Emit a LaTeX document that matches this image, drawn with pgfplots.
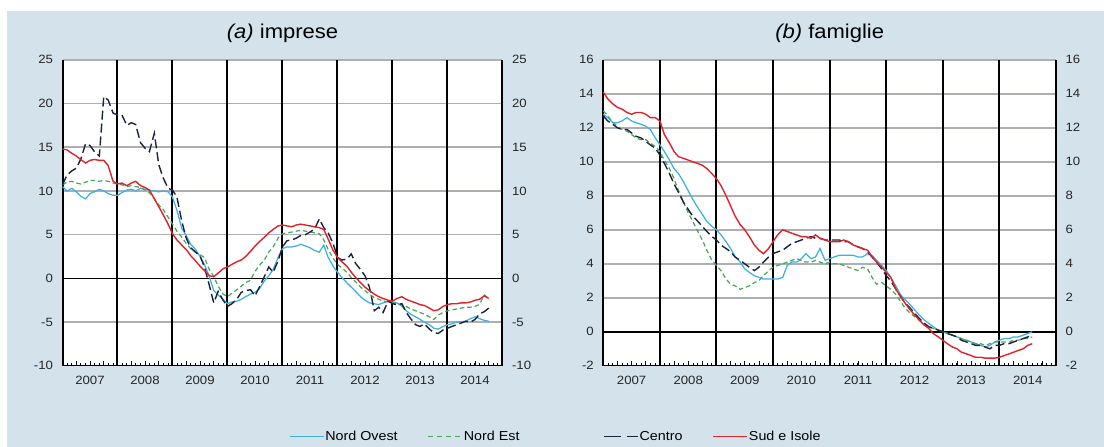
\documentclass[border=0pt]{standalone}
\usepackage{fontspec}
\setmainfont{Liberation Sans}[FakeStretch=1.1]
\usepackage{pgfplots}
\usepackage{pgfplotstable}
\pgfplotsset{compat=1.18}

\definecolor{bgblue}{RGB}{212,226,236}
\definecolor{nordovest}{RGB}{64,176,222}
\definecolor{nordest}{RGB}{76,168,88}
\definecolor{centro}{RGB}{26,36,62}
\definecolor{sud}{RGB}{226,34,40}
\definecolor{rulegray}{RGB}{172,175,180}

% twelve-month growth rates, monthly: t, Nord Ovest, Nord Est, Centro, Sud e Isole
\pgfplotstableread{
t no ne ce si
2007.00 10.5 10.7 10.7 14.8
2007.08 10.0 11.0 11.8 14.7
2007.17 10.3 11.1 12.3 14.3
2007.25 9.9 10.9 12.6 14.0
2007.33 9.4 10.8 13.6 13.6
2007.42 9.1 11.0 15.4 13.2
2007.50 9.7 11.2 15.2 13.5
2007.58 9.9 11.2 14.5 13.6
2007.67 10.2 11.1 14.0 13.5
2007.75 10.0 11.2 20.8 13.5
2007.83 9.7 11.1 20.4 12.9
2007.92 9.5 10.9 18.9 11.1
2008.00 9.5 10.8 18.7 10.8
2008.08 9.8 10.7 18.7 10.9
2008.17 10.1 10.5 17.5 10.6
2008.25 10.2 10.6 17.8 10.9
2008.33 10.0 10.5 17.6 11.1
2008.42 10.3 10.4 15.5 10.6
2008.50 10.2 10.1 14.9 10.4
2008.58 10.1 9.8 14.5 10.1
2008.67 10.0 9.1 16.6 9.1
2008.75 9.9 8.4 13.0 8.2
2008.83 10.0 7.9 11.5 7.3
2008.92 9.9 7.0 10.3 6.2
2009.00 9.3 6.2 10.1 5.1
2009.08 7.8 5.4 9.3 4.4
2009.17 5.7 4.7 6.5 3.8
2009.25 4.9 4.0 4.6 3.3
2009.33 3.9 3.4 3.5 2.6
2009.42 3.3 3.0 3.0 2.0
2009.50 2.5 2.7 2.6 1.4
2009.58 1.6 2.4 1.3 0.9
2009.67 0.2 1.0 -0.8 0.3
2009.75 -1.4 0.2 -2.8 0.2
2009.83 -1.9 -0.9 -1.5 0.6
2009.92 -2.4 -1.8 -2.5 1.1
2010.00 -2.9 -2.1 -3.2 1.3
2010.08 -2.7 -1.7 -2.9 1.6
2010.17 -2.6 -1.3 -2.4 1.9
2010.25 -2.4 -0.9 -1.6 2.1
2010.33 -2.1 -0.5 -1.4 2.5
2010.42 -1.8 -0.2 -1.3 3.1
2010.50 -1.6 0.8 -2.0 3.7
2010.58 -1.2 1.5 -1.0 4.2
2010.67 -0.3 2.1 0.2 4.7
2010.75 0.3 3.0 1.3 5.2
2010.83 1.0 3.6 0.7 5.6
2010.92 2.4 4.6 2.0 6.0
2011.00 3.4 5.1 3.6 6.1
2011.08 3.6 5.2 4.3 6.0
2011.17 3.6 5.3 4.4 5.9
2011.25 3.7 5.4 4.6 6.1
2011.33 3.9 5.5 4.9 6.2
2011.42 3.7 5.4 5.0 6.1
2011.50 3.5 5.3 5.3 6.0
2011.58 3.2 5.2 5.6 5.9
2011.67 3.0 5.1 6.8 5.8
2011.75 3.8 4.4 5.8 5.6
2011.83 2.4 3.3 5.2 4.5
2011.92 1.4 2.3 4.0 3.2
2012.00 0.7 1.6 2.4 2.4
2012.08 0.1 1.2 2.1 1.9
2012.17 -0.5 0.7 2.2 1.4
2012.25 -1.0 0.1 2.8 0.7
2012.33 -1.5 -0.4 1.7 0.1
2012.42 -2.1 -1.0 1.0 -0.5
2012.50 -2.5 -1.4 0.3 -1.0
2012.58 -2.8 -1.8 -1.0 -1.4
2012.67 -2.9 -2.2 -3.7 -1.8
2012.75 -3.0 -2.4 -3.3 -2.1
2012.83 -2.8 -2.6 -3.9 -2.3
2012.92 -2.6 -2.7 -2.6 -2.5
2013.00 -2.7 -2.8 -2.9 -2.6
2013.08 -2.8 -2.9 -3.0 -2.3
2013.17 -3.2 -3.0 -2.9 -2.1
2013.25 -3.7 -3.2 -3.9 -2.4
2013.33 -4.1 -3.5 -4.6 -2.6
2013.42 -4.4 -3.7 -5.3 -2.8
2013.50 -4.7 -3.9 -5.5 -3.0
2013.58 -5.0 -4.1 -5.2 -3.1
2013.67 -5.3 -4.4 -5.8 -3.4
2013.75 -5.7 -4.7 -6.2 -3.7
2013.83 -5.8 -4.2 -6.3 -3.6
2013.92 -5.5 -3.9 -5.9 -3.2
2014.00 -5.3 -3.7 -5.7 -3.0
2014.08 -5.2 -3.6 -5.5 -2.9
2014.17 -5.0 -3.5 -5.3 -2.9
2014.25 -5.0 -3.4 -5.1 -2.8
2014.33 -4.9 -3.3 -4.9 -2.8
2014.42 -4.6 -3.3 -5.0 -2.7
2014.50 -4.4 -3.2 -4.7 -2.5
2014.58 -4.6 -3.0 -4.1 -2.4
2014.67 -4.8 -1.9 -3.8 -2.0
2014.75 -4.9 -2.3 -3.4 -2.3
}\imprese

\pgfplotstableread{
t no ne ce si
2007.00 12.8 13.0 12.7 14.1
2007.08 12.6 12.7 12.4 13.7
2007.17 12.3 12.3 12.2 13.4
2007.25 12.3 12.1 12.0 13.2
2007.33 12.4 11.9 11.9 13.1
2007.42 12.6 11.8 11.9 12.9
2007.50 12.4 11.6 11.7 12.8
2007.58 12.3 11.4 11.5 12.9
2007.67 12.2 11.3 11.4 12.9
2007.75 12.1 11.3 11.2 12.8
2007.83 11.9 11.1 11.0 12.6
2007.92 11.4 10.9 10.8 12.6
2008.00 11.0 10.6 10.4 12.4
2008.08 10.6 10.1 9.9 11.6
2008.17 10.1 9.6 9.3 11.1
2008.25 9.6 9.0 8.7 10.6
2008.33 9.3 8.3 8.2 10.3
2008.42 8.8 7.6 7.6 10.2
2008.50 8.3 7.0 7.2 10.1
2008.58 7.8 6.5 6.8 10.0
2008.67 7.3 5.9 6.5 9.9
2008.75 6.9 5.4 6.2 9.8
2008.83 6.5 4.8 5.9 9.6
2008.92 6.2 4.2 5.6 9.3
2009.00 6.0 3.9 5.4 9.0
2009.08 5.7 3.6 5.1 8.6
2009.17 5.3 3.1 4.9 8.0
2009.25 4.9 2.8 4.7 7.4
2009.33 4.4 2.7 4.4 6.8
2009.42 4.1 2.5 4.2 6.3
2009.50 3.7 2.6 4.0 6.0
2009.58 3.5 2.7 3.8 5.6
2009.67 3.3 2.9 3.6 5.1
2009.75 3.2 3.0 3.8 4.8
2009.83 3.1 3.3 4.1 4.6
2009.92 3.1 3.6 4.4 4.9
2010.00 3.1 3.8 4.6 5.3
2010.08 3.1 3.9 4.7 5.7
2010.17 3.2 4.0 4.8 6.0
2010.25 3.9 4.1 5.0 5.9
2010.33 4.1 4.2 5.2 5.8
2010.42 4.1 4.3 5.3 5.7
2010.50 4.3 4.2 5.4 5.6
2010.58 4.6 4.1 5.5 5.6
2010.67 4.3 4.1 5.6 5.5
2010.75 4.4 4.2 5.5 5.7
2010.83 4.9 4.1 5.5 5.5
2010.92 4.2 4.0 5.4 5.4
2011.00 4.3 4.1 5.4 5.3
2011.08 4.4 4.0 5.4 5.3
2011.17 4.5 4.0 5.4 5.3
2011.25 4.5 3.9 5.3 5.4
2011.33 4.5 3.8 5.3 5.3
2011.42 4.5 3.7 5.1 5.1
2011.50 4.4 3.6 5.0 5.0
2011.58 4.4 3.8 4.9 4.9
2011.67 4.6 3.7 4.7 4.8
2011.75 4.5 3.2 4.4 4.4
2011.83 4.2 2.8 4.1 4.1
2011.92 3.9 2.9 3.7 3.8
2012.00 3.6 2.7 3.3 3.5
2012.08 3.2 2.5 3.0 3.2
2012.17 2.7 2.2 2.5 2.5
2012.25 2.2 1.8 2.1 2.1
2012.33 1.9 1.4 1.7 1.7
2012.42 1.6 1.1 1.4 1.3
2012.50 1.3 0.9 1.1 1.0
2012.58 1.0 0.7 0.8 0.7
2012.67 0.7 0.5 0.5 0.4
2012.75 0.5 0.3 0.3 0.2
2012.83 0.3 0.2 0.2 -0.1
2012.92 0.1 0.1 0.1 -0.3
2013.00 0.0 0.0 0.0 -0.5
2013.08 -0.1 -0.1 -0.1 -0.7
2013.17 -0.2 -0.2 -0.2 -0.9
2013.25 -0.3 -0.3 -0.3 -1.0
2013.33 -0.4 -0.4 -0.5 -1.2
2013.42 -0.5 -0.5 -0.6 -1.3
2013.50 -0.6 -0.6 -0.7 -1.4
2013.58 -0.7 -0.7 -0.8 -1.5
2013.67 -0.8 -0.7 -0.8 -1.5
2013.75 -0.9 -0.8 -0.9 -1.55
2013.83 -0.8 -0.7 -1.0 -1.55
2013.92 -0.6 -0.6 -0.8 -1.55
2014.00 -0.5 -0.6 -0.8 -1.5
2014.08 -0.4 -0.6 -0.7 -1.4
2014.17 -0.4 -0.6 -0.7 -1.3
2014.25 -0.3 -0.5 -0.6 -1.2
2014.33 -0.3 -0.5 -0.5 -1.1
2014.42 -0.2 -0.4 -0.4 -1.0
2014.50 -0.1 -0.4 -0.3 -0.8
2014.58 0.0 -0.3 -0.2 -0.7
}\famiglie

% rules inside the plot area
\tikzset{
  yearline/.style={draw=black, line width=2pt},
  zeroline/.style={draw=black, line width=1.5pt},
}
% a horizontal gridline as a thin filled band at relative height #1
\newcommand{\hband}[1]{\fill[rulegray] ([yshift=-0.75pt]rel axis cs:0,#1) rectangle ([yshift=0.75pt]rel axis cs:1,#1);}

\pgfplotsset{
  panel/.style={
    scale only axis,
    anchor=south west,
    clip=false,
    xmin=2007, xmax=2015,
    axis background/.style={fill=white},
    axis line style={draw=none},
    /pgf/number format/assume math mode=true,
    tick label style={font=\fontsize{12}{13}\selectfont, text=black!85},
    % quarter ticks carry the year labels (at mid-year)
    xtick={2007.25,2007.5,2007.75,2008.25,2008.5,2008.75,2009.25,2009.5,2009.75,
           2010.25,2010.5,2010.75,2011.25,2011.5,2011.75,2012.25,2012.5,2012.75,
           2013.25,2013.5,2013.75,2014.25,2014.5,2014.75},
    xticklabels={,2007,,,2008,,,2009,,,2010,,,2011,,,2012,,,2013,,,2014,},
    minor xtick={2007,2007.0833333,...,2015},
    tick align=inside,
    xtick pos=bottom,
    major tick length=5pt,
    minor tick length=2.5pt,
    x tick style={black, line width=0.7pt},
    xticklabel style={yshift=-7pt},
    ytick style={draw=none},
    yticklabel style={xshift=-6pt},
    title style={font=\fontsize{20}{22}\selectfont, at={(0.5,1)}, anchor=center, yshift=20pt},
    after end axis/.code={\draw[black, line width=0.9pt] (rel axis cs:0,0) -- (rel axis cs:1,0);},
    legend cell align=left,
    legend style={draw=none, fill=none, font=\fontsize{13}{14}\selectfont,
      nodes={inner sep=1pt},
      /tikz/every even column/.append style={column sep=29pt}},
    legend columns=2,
    legend image code/.code={\draw[#1] (0pt,0pt) -- (34pt,0pt);},
  },
  rightlabels/.style={
    scale only axis,
    anchor=south west,
    xmin=2007, xmax=2015,
    hide x axis,
    axis y line*=right,
    y axis line style={draw=none},
    ytick style={draw=none},
    /pgf/number format/assume math mode=true,
    tick label style={font=\fontsize{12}{13}\selectfont, text=black!85},
    yticklabel style={xshift=6pt},
  },
  sNO/.style={no marks, color=nordovest, line width=1.25pt},
  sNE/.style={no marks, color=nordest, line width=1.25pt, dash pattern=on 4.5pt off 3pt,
    legend image post style={dash pattern=on 5pt off 4pt}},
  sCE/.style={no marks, color=centro, line width=1.4pt, dash pattern=on 9pt off 4pt,
    legend image post style={dash pattern=on 17pt off 6pt}},
  sSI/.style={no marks, color=sud, line width=1.4pt},
}

\begin{document}
\begin{tikzpicture}
\useasboundingbox (0,0) rectangle (1104pt,447pt);
\fill[white] (0,0) rectangle (1104pt,447pt);
\fill[bgblue] (7pt,0) rectangle (1104pt,436pt);

% (a) imprese: gridlines every 5 points (7 intervals over the 35-point range)
\begin{axis}[panel,
  at={(62.5pt,81.2pt)}, width=440pt, height=306pt,
  ymin=-10, ymax=25, ytick={-10,-5,...,25},
  title={\textit{(a)} imprese},
  legend style={at={(0.778,-0.231)}, anchor=center}]
\hband{0.142857}
\hband{0.428571}
\hband{0.571429}
\hband{0.714286}
\hband{0.857143}
\hband{1}
\pgfplotsinvokeforeach{2007,2008,2009,2010,2011,2012,2013,2014,2015}{\draw[yearline] (axis cs:#1,-10) -- (axis cs:#1,25);}
\draw[zeroline] (axis cs:2007,0) -- (axis cs:2015,0);
\addplot[sNO] table[x=t, y=no] {\imprese};
\addplot[sNE] table[x=t, y=ne] {\imprese};
\addplot[sCE] table[x=t, y=ce] {\imprese};
\addplot[sSI] table[x=t, y=si] {\imprese};
\addlegendentry{Nord Ovest}
\addlegendentry{Nord Est}
\end{axis}
\begin{axis}[rightlabels,
  at={(62.5pt,81.2pt)}, width=440pt, height=306pt,
  ymin=-10, ymax=25, ytick={-10,-5,...,25}]
\end{axis}

% (b) famiglie: gridlines every 2 points (9 intervals over the 18-point range)
\begin{axis}[panel,
  at={(603.3pt,81.2pt)}, width=452.7pt, height=306pt,
  ymin=-2, ymax=16, ytick={-2,0,...,16},
  title={\textit{(b)} famiglie},
  legend style={at={(0.241,-0.231)}, anchor=center}]
\hband{0.222222}
\hband{0.333333}
\hband{0.444444}
\hband{0.555556}
\hband{0.666667}
\hband{0.777778}
\hband{0.888889}
\hband{1}
\pgfplotsinvokeforeach{2007,2008,2009,2010,2011,2012,2013,2014,2015}{\draw[yearline] (axis cs:#1,-2) -- (axis cs:#1,16);}
\draw[zeroline] (axis cs:2007,0) -- (axis cs:2015,0);
\addplot[sNO, forget plot] table[x=t, y=no] {\famiglie};
\addplot[sNE, forget plot] table[x=t, y=ne] {\famiglie};
\addplot[sCE] table[x=t, y=ce] {\famiglie};
\addplot[sSI] table[x=t, y=si] {\famiglie};
\addlegendentry{Centro}
\addlegendentry{Sud e Isole}
\end{axis}
\begin{axis}[rightlabels,
  at={(603.3pt,81.2pt)}, width=452.7pt, height=306pt,
  ymin=-2, ymax=16, ytick={-2,0,...,16}]
\end{axis}
\end{tikzpicture}
\end{document}
